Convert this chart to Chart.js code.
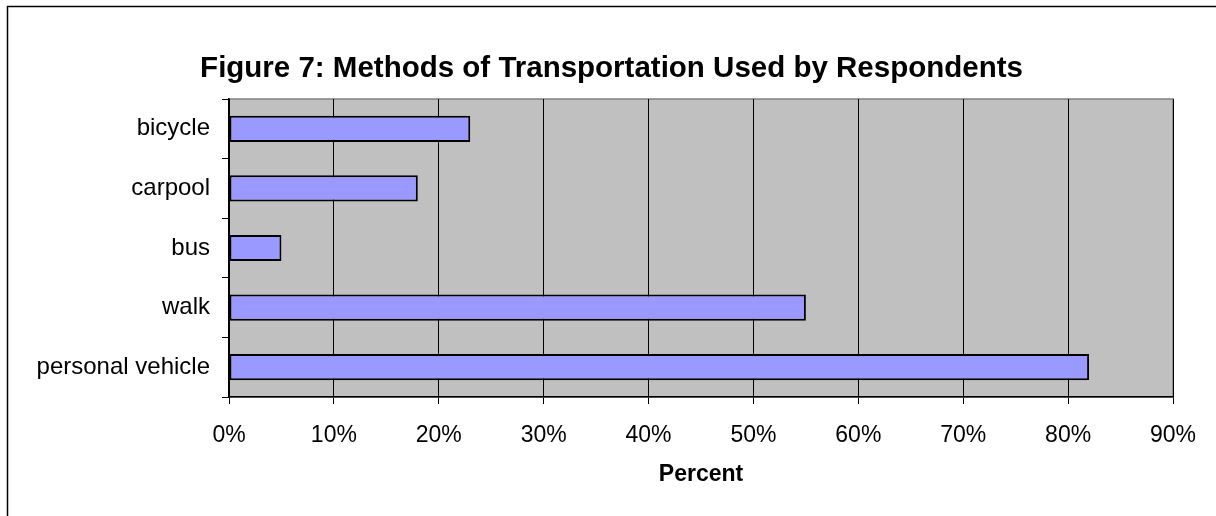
<!DOCTYPE html>
<html>
<head>
<meta charset="utf-8">
<script src="https://cdn.jsdelivr.net/npm/chart.js@4"></script>
<style>
  html, body { margin: 0; padding: 0; background: #fff; }
  #wrap { width: 1216px; height: 516px; }
</style>
</head>
<body>
<div id="wrap"><canvas id="c" width="1216" height="516"></canvas></div>
<script>
const titleText = "Figure 7: Methods of Transportation Used by Respondents";
const categories = ["bicycle", "carpool", "bus", "walk", "personal vehicle"];
const percentValues = [23, 18, 5, 55, 82];
const xTickMin = 0;
const xTickMax = 90;
const xTickStep = 10;
const xAxisTitle = "Percent";

const FONT = "'Liberation Sans', Arial, sans-serif";

const framePlugin = {
  id: 'frame',
  afterLayout(chart) {
    // centre the title on the whole framed chart, as in the original
    if (chart.titleBlock) {
      chart.titleBlock.left = 50;
    }
  },
  beforeDraw(chart) {
    const ctx = chart.ctx;
    const a = chart.chartArea;
    ctx.save();
    ctx.fillStyle = '#ffffff';
    ctx.fillRect(0, 0, chart.width, chart.height);
    ctx.strokeStyle = '#000000';
    ctx.lineWidth = 1.5;
    ctx.beginPath();
    ctx.moveTo(7.5, chart.height + 2);
    ctx.lineTo(7.5, 6.5);
    ctx.lineTo(chart.width + 2, 6.5);
    ctx.stroke();
    ctx.fillStyle = '#c0c0c0';
    ctx.fillRect(a.left, a.top, a.right - a.left, a.bottom - a.top);
    ctx.strokeStyle = '#808080';
    ctx.lineWidth = 1.5;
    ctx.strokeRect(a.left, a.top, a.right - a.left, a.bottom - a.top);
    ctx.restore();
  }
};

new Chart(document.getElementById('c'), {
  type: 'bar',
  data: {
    labels: categories,
    datasets: [{
      data: percentValues,
      backgroundColor: '#9999ff',
      borderColor: '#000000',
      borderWidth: 2,
      borderSkipped: false,
      barPercentage: 0.44,
      categoryPercentage: 1.0
    }]
  },
  options: {
    indexAxis: 'y',
    responsive: false,
    animation: false,
    events: [],
    layout: { padding: { left: 0, right: 43, top: 0, bottom: 0 } },
    plugins: {
      legend: { display: false },
      tooltip: { enabled: false },
      title: {
        display: true,
        text: titleText,
        color: '#000',
        font: { family: FONT, size: 29.5, weight: 'bold' },
        padding: { top: 51, bottom: 12.6 }
      }
    },
    scales: {
      x: {
        min: xTickMin,
        max: xTickMax,
        afterFit(scale) { scale.height = 119; },
        ticks: {
          stepSize: xTickStep,
          color: '#000',
          padding: 18,
          font: { family: FONT, size: 23 },
          callback: (v) => v + '%'
        },
        grid: {
          color: '#000000',
          lineWidth: 1,
          drawTicks: true,
          tickLength: 7,
          tickColor: '#000000'
        },
        border: { display: true, color: '#000000', width: 1.5 },
        title: {
          display: true,
          text: xAxisTitle,
          color: '#000',
          font: { family: FONT, size: 23, weight: 'bold' },
          padding: { top: 0, bottom: 28 }
        }
      },
      y: {
        afterFit(scale) { scale.width = 229; },
        ticks: {
          color: '#000',
          padding: 12,
          font: { family: FONT, size: 24 }
        },
        grid: {
          offset: true,
          drawOnChartArea: false,
          drawTicks: true,
          tickLength: 7,
          tickColor: '#000000',
          lineWidth: 1
        },
        border: { display: true, color: '#000000', width: 1.5 }
      }
    }
  },
  plugins: [framePlugin]
});
</script>
</body>
</html>
